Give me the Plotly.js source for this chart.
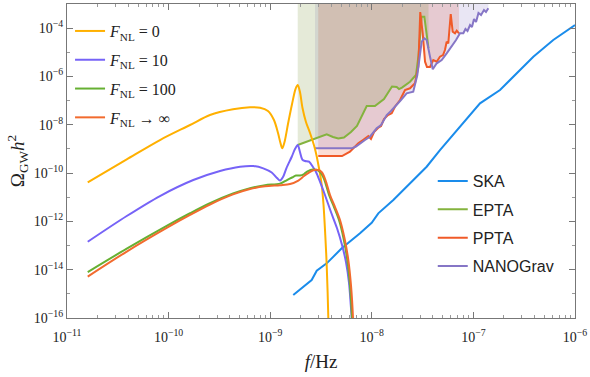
<!DOCTYPE html>
<html>
<head>
<meta charset="utf-8">
<script src="https://cdn.plot.ly/plotly-3.0.1.min.js"></script>
<style>
  body { margin: 0; background: #fff; }
  #plot { width: 590px; height: 377px; }
</style>
</head>
<body>
<div id="plot"></div>
<script>
// all values are log10 of f [Hz] and log10 of Omega_GW h^2

// F_NL = 0
var logF_0 = [-10.796, -10.412, -10.085, -9.789, -9.593, -9.366, -9.199, -9.100, -9.022, -8.963, -8.923, -8.899, -8.881, -8.859, -8.825, -8.785, -8.751, -8.729, -8.707, -8.682, -8.648, -8.608, -8.559, -8.520, -8.493, -8.475, -8.458, -8.444, -8.428, -8.425];
var logO_0 = [-10.383, -9.431, -8.631, -8.010, -7.596, -7.360, -7.277, -7.294, -7.431, -7.803, -8.342, -8.756, -8.975, -8.714, -7.969, -7.141, -6.520, -6.354, -6.644, -7.306, -7.886, -8.342, -9.004, -9.791, -10.495, -11.323, -12.565, -13.807, -16.0, -17.5];

// F_NL = 10
var logF_10 = [-10.796, -10.412, -10.085, -9.757, -9.494, -9.297, -9.166, -9.068, -8.985, -8.933, -8.904, -8.874, -8.840, -8.788, -8.756, -8.729, -8.707, -8.684, -8.657, -8.618, -8.579, -8.549, -8.510, -8.461, -8.402, -8.343, -8.293, -8.254, -8.224, -8.207, -8.198, -8.195];
var logO_10 = [-12.843, -11.778, -10.950, -10.288, -9.915, -9.737, -9.708, -9.803, -9.977, -10.205, -10.308, -10.164, -9.791, -9.323, -9.004, -8.839, -9.128, -9.439, -9.501, -9.530, -9.749, -9.957, -10.358, -10.909, -11.613, -12.275, -12.979, -13.683, -14.553, -15.464, -16.0, -16.5];

// F_NL = 100
var logF_100 = [-10.796, -10.412, -10.019, -9.789, -9.593, -9.366, -9.199, -9.051, -8.904, -8.835, -8.785, -8.746, -8.707, -8.667, -8.628, -8.579, -8.539, -8.500, -8.466, -8.421, -8.372, -8.323, -8.279, -8.241, -8.215, -8.195, -8.192];
var logO_100 = [-14.097, -13.129, -12.184, -11.663, -11.248, -10.847, -10.623, -10.499, -10.437, -10.288, -10.184, -10.101, -10.101, -10.039, -9.915, -9.853, -9.874, -9.998, -10.288, -10.909, -11.406, -11.944, -12.689, -13.600, -14.636, -16.0, -16.5];

// F_NL -> infinity
var logF_inf = [-10.796, -10.412, -10.019, -9.789, -9.593, -9.366, -9.199, -9.051, -8.904, -8.805, -8.723, -8.667, -8.618, -8.569, -8.527, -8.490, -8.456, -8.411, -8.362, -8.313, -8.269, -8.231, -8.205, -8.185, -8.182];
var logO_inf = [-14.284, -13.248, -12.271, -11.733, -11.302, -10.884, -10.660, -10.549, -10.499, -10.453, -10.308, -10.122, -9.977, -9.874, -9.874, -9.977, -10.288, -10.909, -11.406, -11.944, -12.689, -13.600, -14.636, -16.0, -16.5];

// SKA
var logF_ska = [-8.773, -8.592, -8.542, -8.444, -8.296, -8.116, -8.001, -7.936, -7.788, -7.592, -7.460, -7.329, -7.132, -6.935, -6.738, -6.607, -6.410, -6.214, -6.0];
var logO_ska = [-15.050, -14.429, -14.043, -13.737, -13.116, -12.495, -12.056, -11.667, -11.116, -10.288, -9.737, -9.046, -8.081, -7.112, -6.561, -6.010, -5.182, -4.491, -3.870];

// EPTA
var logF_epta = [-8.729, -8.444, -8.382, -8.330, -8.274, -8.205, -8.146, -8.096, -8.050, -7.969, -7.880, -7.801, -7.755, -7.732, -7.703, -7.624, -7.565, -7.540, -7.521, -7.509, -7.483, -7.460, -7.442];
var logO_epta = [-8.839, -8.395, -8.507, -8.569, -8.528, -8.300, -8.052, -7.638, -7.224, -7.224, -6.934, -6.416, -6.437, -6.520, -6.458, -6.217, -5.940, -5.112, -4.077, -3.526, -3.526, -4.213, -4.822];

// PPTA
var logF_ppta = [-8.527, -8.293, -8.215, -8.133, -8.087, -8.034, -8.008, -7.978, -7.939, -7.909, -7.880, -7.841, -7.804, -7.772, -7.722, -7.673, -7.624, -7.575, -7.542, -7.523, -7.499, -7.476, -7.457, -7.427, -7.395, -7.361, -7.329, -7.299, -7.280, -7.263, -7.247, -7.223, -7.204, -7.181, -7.164, -7.142];
var logO_ppta = [-9.294, -9.294, -9.116, -8.768, -8.631, -8.466, -8.590, -8.300, -8.135, -8.052, -7.762, -7.596, -7.526, -7.253, -6.975, -6.561, -6.491, -6.284, -5.596, -3.331, -4.213, -5.389, -5.609, -5.609, -5.319, -5.389, -5.182, -5.112, -4.905, -4.561, -4.627, -3.414, -4.147, -4.213, -4.106, -4.213];

// NANOGrav
var logF_nano = [-8.559, -8.198, -8.156, -8.116, -8.067, -8.018, -7.952, -7.909, -7.853, -7.811, -7.755, -7.713, -7.657, -7.592, -7.552, -7.526, -7.509, -7.483, -7.460, -7.427, -7.400, -7.361, -7.312, -7.263, -7.214, -7.171, -7.132, -7.099, -7.078, -7.058, -7.033, -7.014, -6.994, -6.974, -6.950, -6.925, -6.896, -6.876, -6.853];
var logO_nano = [-8.975, -8.975, -8.901, -8.768, -8.631, -8.495, -8.147, -8.010, -7.596, -7.431, -7.182, -6.975, -6.698, -6.631, -5.940, -4.988, -4.561, -4.420, -4.491, -5.182, -5.704, -5.455, -5.319, -5.041, -4.768, -4.491, -4.213, -4.213, -4.035, -4.118, -3.870, -3.952, -3.621, -3.745, -3.373, -3.455, -3.248, -3.331, -3.178];

var xRange = [-11, -6];
var yRange = [-16, -3];
var xTickExp = [-11, -10, -9, -8, -7, -6];
var yTickExp = [-16, -14, -12, -10, -8, -6, -4];

function pow10(arr) {
  return arr.map(function (v) { return Math.pow(10, v); });
}

// fill from a sensitivity curve up to the top of the plot
function bandTrace(lf, lo, color) {
  var xs = pow10(lf);
  var ys = pow10(lo);
  xs.push(xs[xs.length - 1]); ys.push(Math.pow(10, yRange[1] + 1));
  xs.push(xs[0]); ys.push(Math.pow(10, yRange[1] + 1));
  return {
    x: xs, y: ys, mode: 'lines', fill: 'toself', fillcolor: color,
    line: {width: 0}, hoverinfo: 'skip', showlegend: false
  };
}

function curve(lf, lo, name, color, leg, rank, smooth) {
  return {
    x: pow10(lf), y: pow10(lo), mode: 'lines', name: name,
    legend: leg, legendgroup: name, legendrank: rank,
    line: {color: color, width: 2, shape: smooth ? 'spline' : 'linear', smoothing: 0.85}
  };
}

var data = [
  bandTrace(logF_ppta, logO_ppta, 'rgba(240,90,50,0.20)'),
  bandTrace(logF_nano, logO_nano, 'rgba(110,90,180,0.15)'),
  bandTrace(logF_epta, logO_epta, 'rgba(125,150,60,0.20)'),
  curve(logF_ska, logO_ska, 'SKA', '#1a8ceb', 'legend2', 1, false),
  curve(logF_epta, logO_epta, 'EPTA', '#84b33e', 'legend2', 2, false),
  curve(logF_ppta, logO_ppta, 'PPTA', '#f05a28', 'legend2', 3, false),
  curve(logF_nano, logO_nano, 'NANOGrav', '#8676c6', 'legend2', 4, false),
  curve(logF_0, logO_0, '<i>F</i><sub>NL</sub> = 0', '#ffb000', 'legend', 1, true),
  curve(logF_10, logO_10, '<i>F</i><sub>NL</sub> = 10', '#7663f7', 'legend', 2, true),
  curve(logF_100, logO_100, '<i>F</i><sub>NL</sub> = 100', '#66b032', 'legend', 3, true),
  curve(logF_inf, logO_inf, '<i>F</i><sub>NL</sub> → ∞', '#f26b2e', 'legend', 4, true)
];

var xMinor = [];
for (var d = xRange[0]; d < xRange[1]; d++) {
  for (var k = 2; k <= 9; k++) xMinor.push(k * Math.pow(10, d));
}
var yMinor = [];
for (var e = yRange[0] + 1; e <= yRange[1]; e += 2) yMinor.push(Math.pow(10, e));

var serif = 'Liberation Serif, DejaVu Serif, serif';
var axisCommon = {
  type: 'log', showgrid: false, zeroline: false,
  showline: true, linecolor: '#777', linewidth: 1.2, mirror: 'ticks',
  ticks: 'inside', ticklen: 6, tickwidth: 1, tickcolor: '#777',
  tickfont: {family: serif, size: 14, color: '#222'}
};

function expLabel(v) { return '10<sup>' + String(v).replace('-', '−') + '</sup>'; }

var layout = {
  width: 590, height: 377,
  margin: {l: 67, r: 15, t: 4, b: 59},
  paper_bgcolor: '#fff', plot_bgcolor: '#fff',
  xaxis: Object.assign({}, axisCommon, {
    range: xRange,
    tickmode: 'array',
    tickvals: pow10(xTickExp),
    ticktext: xTickExp.map(expLabel),
    ticklabelstandoff: 6,
    minor: {tickmode: 'array', tickvals: xMinor, ticks: 'inside', ticklen: 3, tickcolor: '#999'},
    title: {text: '<i>f</i>/Hz', font: {family: serif, size: 19, color: '#222'}, standoff: 10}
  }),
  yaxis: Object.assign({}, axisCommon, {
    range: yRange,
    tickmode: 'array',
    tickvals: pow10(yTickExp),
    ticktext: yTickExp.map(expLabel),
    minor: {tickmode: 'array', tickvals: yMinor, ticks: 'inside', ticklen: 3, tickcolor: '#999'},
    title: {text: 'Ω<sub>GW</sub><i>h</i><sup>2</sup>', font: {family: serif, size: 19, color: '#222'}, standoff: 4}
  }),
  legend: {
    x: 0.006, y: 0.968, xanchor: 'left', yanchor: 'top',
    bgcolor: 'rgba(0,0,0,0)', font: {family: serif, size: 16, color: '#222'},
    tracegroupgap: 5
  },
  legend2: {
    x: 0.72, y: 0.49, xanchor: 'left', yanchor: 'top',
    bgcolor: 'rgba(0,0,0,0)', font: {family: 'Liberation Sans, Arial, sans-serif', size: 16, color: '#222'},
    tracegroupgap: 4.5
  }
};

Plotly.newPlot('plot', data, layout, {displayModeBar: false, responsive: false});
</script>
</body>
</html>
